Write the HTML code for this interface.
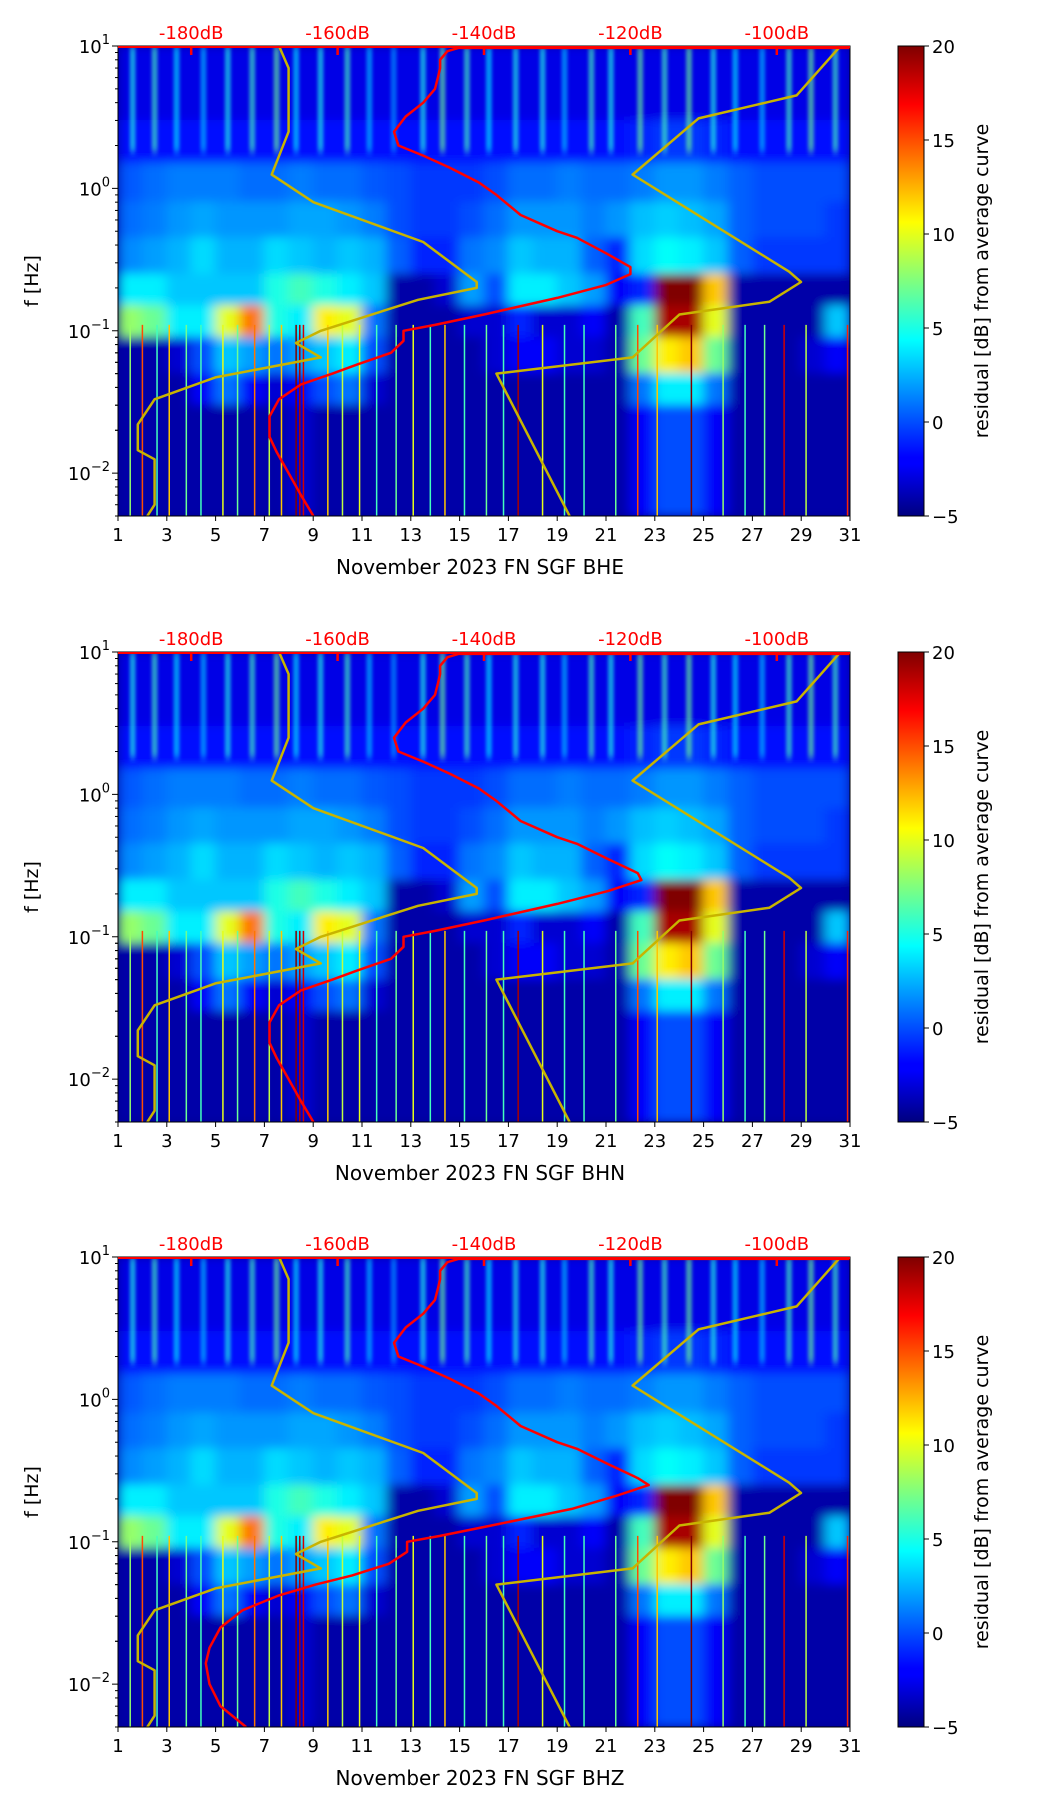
<!DOCTYPE html>
<html><head><meta charset="utf-8"><style>
body{margin:0;background:#fff}
svg{display:block}
text{font-family:"DejaVu Sans","Liberation Sans",sans-serif}
</style></head><body>
<svg id="fig" width="1052" height="1806" viewBox="0 0 1052 1806" xmlns="http://www.w3.org/2000/svg">
<defs>
<filter id="blur" x="-5%" y="-5%" width="110%" height="110%"><feGaussianBlur stdDeviation="6 5"/></filter>
<filter id="sblur" x="-20%" y="-5%" width="140%" height="110%"><feGaussianBlur stdDeviation="1.5 4"/></filter>
<linearGradient id="jet" x1="0" y1="1" x2="0" y2="0">
<stop offset="0" stop-color="#00007f"/><stop offset="0.11" stop-color="#0000ff"/><stop offset="0.125" stop-color="#0000ff"/>
<stop offset="0.34" stop-color="#00dcff"/><stop offset="0.375" stop-color="#00ffff"/><stop offset="0.5" stop-color="#7fff7f"/>
<stop offset="0.625" stop-color="#ffff00"/><stop offset="0.66" stop-color="#ffdc00"/><stop offset="0.875" stop-color="#ff0000"/><stop offset="1" stop-color="#7f0000"/>
</linearGradient>
</defs>
</svg>
<script>
// ---- data ----
const days = [1,2,3,4,5,6,7,8,9,10,11,12,13,14,15,16,17,18,19,20,21,22,23,24,25,26,27,28,29,30];
const bandTopHz =    [10, 3,  1.5, 0.8, 0.45,0.25,0.15,0.09,0.05,0.03,0.01];
const bandBottomHz = [3,  1.5,0.8, 0.45,0.25,0.15,0.09,0.05,0.03,0.01,0.005];
const residualRows = [
 [-2.5,-2.5,-2.5,-2.5,-2.5,-2.5,-2.5,-2.5,-2.5,-2.5,-2.5,-2.5,-2.5,-2.5,-2.5,-2.5,-2.5,-2.5,-2.5,-2.5,-2.5,-2.5,-2.5,-2.5,-2.5,-2.5,-2.5,-2.5,-2.5,-2.5],
 [-1.5,-1.5,-1.5,-1.5,-1.5,-1.5,-1.5,-1.5,-1.5,-1.5,-1.5,-1.5,-1.5,-1.5,-1.5,-1.5,-1.5,-1.5,-1.5,-1.5,-1.5,-1,-0.5,-0.5,-1,-1.5,-1.5,-1.5,-1.5,-1.5],
 [0.3,0.8,1.2,1.2,1.2,0.8,0.8,1.2,0.8,0.8,0.3,0,-0.5,-0.5,-0.5,0,0.8,0.8,1.2,0.8,0.8,1.2,1.8,1.8,1.2,0.5,0,0,0,0],
 [0.8,1.2,1.8,2.2,1.8,1.8,1.8,2.2,2.2,1.8,1.2,0,-0.5,-0.5,0,0.8,1.8,1.8,1.8,1.2,1.8,2.8,3.2,2.8,2.2,0.5,0,0,0,-0.5],
 [1.5,2,2.5,3.5,2.5,2.5,3.5,3,2.5,3,2.5,0.5,-1,-1,1,1.5,3,2.5,2.5,0.5,-1,3.5,4.5,4,3,0.5,-0.5,-0.5,-0.5,-0.5],
 [4,4,3,3,3,3,5,6,5,4,3,-4,-4,-3,2,0,4,4,3,2,-2,-1,20,20,12,-4,-4,-4,-4,-4],
 [8,7,4,4,10,14,5,4,11,10,1,-4,-4,-4,-3,-3,-1,-3,-3,-2,-4,6,19,19,10,-4,-4,-4,-4,3],
 [-4,-4,-3,0,3,2,1,2,3,4,0,-4,-4,-4,-4,-3,-2,-2,-3,-3,-4,7,11,12,7,-4,-4,-4,-3,-2],
 [-4,-4,-4,-2,1,-2,-3,-2,0,1,-3,-4,-4,-4,-4,-4,-4,-4,-4,-4,-4,1,4,4,1,-4,-4,-4,-4,-4],
 [-4,-4,-4,-4,-4,-4,-4,-3,-4,-4,-4,-4,-4,-4,-4,-4,-4,-4,-4,-4,-4,-2,0,0,-2,-4,-4,-4,-4,-4],
 [-4,-4,-4,-4,-4,-4,-4,-3,-4,-4,-4,-4,-4,-4,-4,-4,-4,-4,-4,-4,-4,-2,0,0,-2,-4,-4,-4,-4,-4]
];
const stripeDays = [1.6,2.5,3.4,4.5,5.5,6.5,7.5,8.3,9.3,10.4,11.3,12.3,13.5,14.3,15.3,16.2,17.3,18.4,19.3,20.4,21.2,22.4,23.4,24.4,25.4,26.3,27.4,28.5,29.4,30.4];
const stripeValues = [5,6,4,3,5,6,7,4,5,6,3,2,5,7,6,4,5,5,3,6,5,7,6,7,5,4,3,6,7,6];
const spikeDays = [1.5,2,2.6,3.1,3.8,4.4,5.3,5.9,6.6,7.2,7.7,8.3,8.45,8.6,9.6,10.2,10.9,11.6,12.4,13.1,13.8,14.4,15.2,16.1,16.8,17.4,18.4,19.3,20.1,21.4,22.3,23.1,24.5,25.8,26.7,27.5,28.3,29.2,30.9];
const spikeValues = [8,15,6,12,7,6,10,7,14,9,12,20,19,18,12,9,10,6,7,10,6,12,6,7,6,19,10,6,6,7,15,12,20,8,6,7,18,9,16];

const nlnmHz = [10,7,2.5,1.25,0.8,0.42,0.22,0.2,0.165,0.1,0.082,0.065,0.047,0.033,0.022,0.0145,0.0125,0.006,0.005];
const nlnmDb = [-168,-166.7,-166.7,-169,-163.3,-148.3,-141,-141,-149,-162.3,-165.7,-162.3,-176.7,-185,-187.3,-187.3,-185,-185,-186];
const nhnmHz = [10,4.5,3.1,1.25,0.26,0.22,0.16,0.13,0.065,0.05,0.005];
const nhnmDb = [-91.3,-97.3,-110.7,-119.7,-98.3,-96.7,-101,-113.3,-119.7,-138.3,-128.3];

const medHz = [9.7,9.7,9.2,8,7,6,5,4,3.2,2.5,2,1.7,1.4,1.1,0.9,0.65,0.5,0.45,0.35,0.28,0.25,0.21,0.17,0.13,0.11,0.1,0.085,0.07,0.058,0.05,0.042,0.033,0.025,0.018,0.014,0.01,0.007,0.005];
const medDbE = [-90,-143.5,-145,-146,-146,-146.3,-146.7,-148.3,-150.7,-152.3,-151.7,-148.3,-144.7,-140.7,-138.3,-135,-130,-127.3,-123.3,-120,-120,-123.3,-130,-140,-146.7,-151,-151,-152.7,-157.3,-160.7,-165,-168,-169.3,-169.3,-168.3,-166.7,-165,-163.3];
const medDbN = [-90,-143.5,-145,-146,-146,-146.3,-146.7,-148.3,-150.7,-152.3,-151.7,-148.3,-144.7,-140.7,-138.3,-135,-130,-127.3,-123,-119,-118.5,-123,-130,-140,-146.7,-151,-151,-152.7,-157.3,-160.7,-165,-168,-169.3,-169.3,-168.3,-166.7,-165,-163.3];
const medDbZ = [-90,-143.5,-145,-146,-146,-146.3,-146.7,-148.3,-150.7,-152.3,-151.7,-148.3,-144.7,-140.7,-138.3,-135,-130,-127.3,-123,-119,-117.5,-122,-128,-139,-146,-150.5,-150.5,-153,-158,-163,-168,-173,-176,-177.5,-178,-177.5,-176,-172.5];

const dayTicks = [1,3,5,7,9,11,13,15,17,19,21,23,25,27,29,31];
const dbTicks = [-180,-160,-140,-120,-100];
const cbTicks = [20,15,10,5,0,-5];
const yDecades = [1,0,-1,-2];

// ---- layout ----
const L=118,R=850,PT=46,PB=516,CBX=898,CBW=26;
const NS='http://www.w3.org/2000/svg';
const svg=document.getElementById('fig');
function mk(tag,attrs,parent){const e=document.createElementNS(NS,tag);for(const k in attrs)e.setAttribute(k,attrs[k]);(parent||svg).appendChild(e);return e;}
const xDay=d=>L+(d-1)*(R-L)/30;
const xDb=db=>xDay(1+(db+190)*0.3);
const yF=(f,oy)=>oy+PT+(1-Math.log10(f))*(PB-PT)/(1+Math.log10(200));
function jet(v){const t=Math.max(0,Math.min(1,(v+5)/25));const c=x=>Math.round(255*Math.max(0,Math.min(1,1.5-Math.abs(4*t-x))));return `rgb(${c(3)},${c(2)},${c(1)})`;}

function panel(oy,medDb,chan,idx){
  const g=mk('g',{});
  
  
  const cp=mk('clipPath',{id:'cp'+idx},g);
  mk('rect',{x:L,y:oy+PT,width:R-L,height:PB-PT},cp);
  const plot=mk('g',{'clip-path':`url(#cp${idx})`},g);
  
  
  mk('rect',{x:L,y:oy+PT,width:R-L,height:PB-PT,fill:jet(-4.5)},plot);
  const hm=mk('g',{filter:'url(#blur)'},plot);
  residualRows.forEach((row,r)=>{
    row.forEach((v,c)=>{
      const y0=yF(bandTopHz[r],oy),y1=yF(bandBottomHz[r],oy);
      const cell=mk('rect',{x:xDay(days[c])-0.5,y:y0-0.5,width:(R-L)/30+1,height:y1-y0+1,fill:jet(v)},hm);
      
      
    });
  });
  const sg=mk('g',{filter:'url(#sblur)'},plot);
  stripeDays.forEach((d,i)=>{
    const s=mk('rect',{x:xDay(d)-3,y:yF(10,oy),width:6,height:yF(1.8,oy)-yF(10,oy),fill:jet(stripeValues[i]),opacity:0.6},sg);
    
    
  });
  spikeDays.forEach((d,i)=>{
    const s=mk('rect',{x:xDay(d)-0.75,y:yF(0.11,oy),width:1.5,height:yF(0.005,oy)-yF(0.11,oy),fill:jet(spikeValues[i])},plot);
    
    
  });
  const line=(hz,db,color,w,name)=>{
    const p=mk('polyline',{points:hz.map((f,i)=>xDb(db[i]).toFixed(1)+','+yF(f,oy).toFixed(1)).join(' '),fill:'none',stroke:color,'stroke-width':w,'stroke-linejoin':'round'},plot);
    
    
  };
  line(nlnmHz,nlnmDb,'#c8b400',2.5,'nlnm-curve');
  line(nhnmHz,nhnmDb,'#c8b400',2.5,'nhnm-curve');
  line(medHz,medDb,'#ff0000',2.5,'median-psd-curve');
  const fr=mk('rect',{x:L,y:oy+PT,width:R-L,height:PB-PT,fill:'none',stroke:'#000','stroke-width':1},g);
  
  
  dayTicks.forEach(d=>{
    mk('line',{x1:xDay(d),x2:xDay(d),y1:oy+PB,y2:oy+PB+5,stroke:'#000'},g);
    const t=mk('text',{x:xDay(d),y:oy+PB+25,'font-size':18,'text-anchor':'middle'},g);t.textContent=d;
    
    
  });
  const xl=mk('text',{x:480,y:oy+PB+58,'font-size':20,'text-anchor':'middle'},g);xl.textContent='November 2023 FN SGF  '+chan;
  
  
  dbTicks.forEach(db=>{
    mk('line',{x1:xDb(db),x2:xDb(db),y1:oy+PT,y2:oy+PT+9,stroke:'#ff0000','stroke-width':2.5},g);
    const t=mk('text',{x:xDb(db),y:oy+PT-7,'font-size':18,'text-anchor':'middle',fill:'#ff0000'},g);t.textContent=db+'dB';
    
    
  });
  mk('line',{x1:L,x2:R,y1:oy+PT+1,y2:oy+PT+1,stroke:'#ff0000','stroke-width':2},g);
  yDecades.forEach(e=>{
    const y=yF(Math.pow(10,e),oy);
    mk('line',{x1:L-6,x2:L,y1:y,y2:y,stroke:'#000'},g);
    const t=mk('text',{x:L-8,y:y+7,'font-size':18,'text-anchor':'end'},g);
    
    
    t.textContent='10';
    const s=mk('tspan',{dy:-9,'font-size':13},t);s.textContent=(e<0?'\u2212':'')+Math.abs(e);
    for(let m=2;m<10;m++){const f=m*Math.pow(10,e-1);if(f<0.005||f>10)continue;const ym=yF(f,oy);mk('line',{x1:L-3,x2:L,y1:ym,y2:ym,stroke:'#000'},g);}
  });
  for(let m=2;m<10;m++){const ym=yF(m*0.01,oy);mk('line',{x1:L-3,x2:L,y1:ym,y2:ym,stroke:'#000'},g);}
  const yl=mk('text',{transform:`translate(38,${oy+281}) rotate(-90)`,'font-size':19,'text-anchor':'middle'},g);yl.textContent='f [Hz]';
  
  
  const cb=mk('rect',{x:CBX,y:oy+PT,width:CBW,height:PB-PT,fill:'url(#jet)',stroke:'#000'},g);
  
  
  cbTicks.forEach(v=>{
    const y=oy+PB-(v+5)/25*(PB-PT);
    mk('line',{x1:CBX+CBW,x2:CBX+CBW+5,y1:y,y2:y,stroke:'#000'},g);
    const t=mk('text',{x:CBX+CBW+8,y:y+7,'font-size':18},g);t.textContent=v<0?'\u2212'+(-v):v;
    
    
  });
  const cl=mk('text',{transform:`translate(988,${oy+281}) rotate(-90)`,'font-size':19,'text-anchor':'middle'},g);cl.textContent='residual [dB] from average curve';
  
  
}
panel(0,medDbE,'BHE',0);
panel(606,medDbN,'BHN',1);
panel(1211,medDbZ,'BHZ',2);
</script>
</body></html>
